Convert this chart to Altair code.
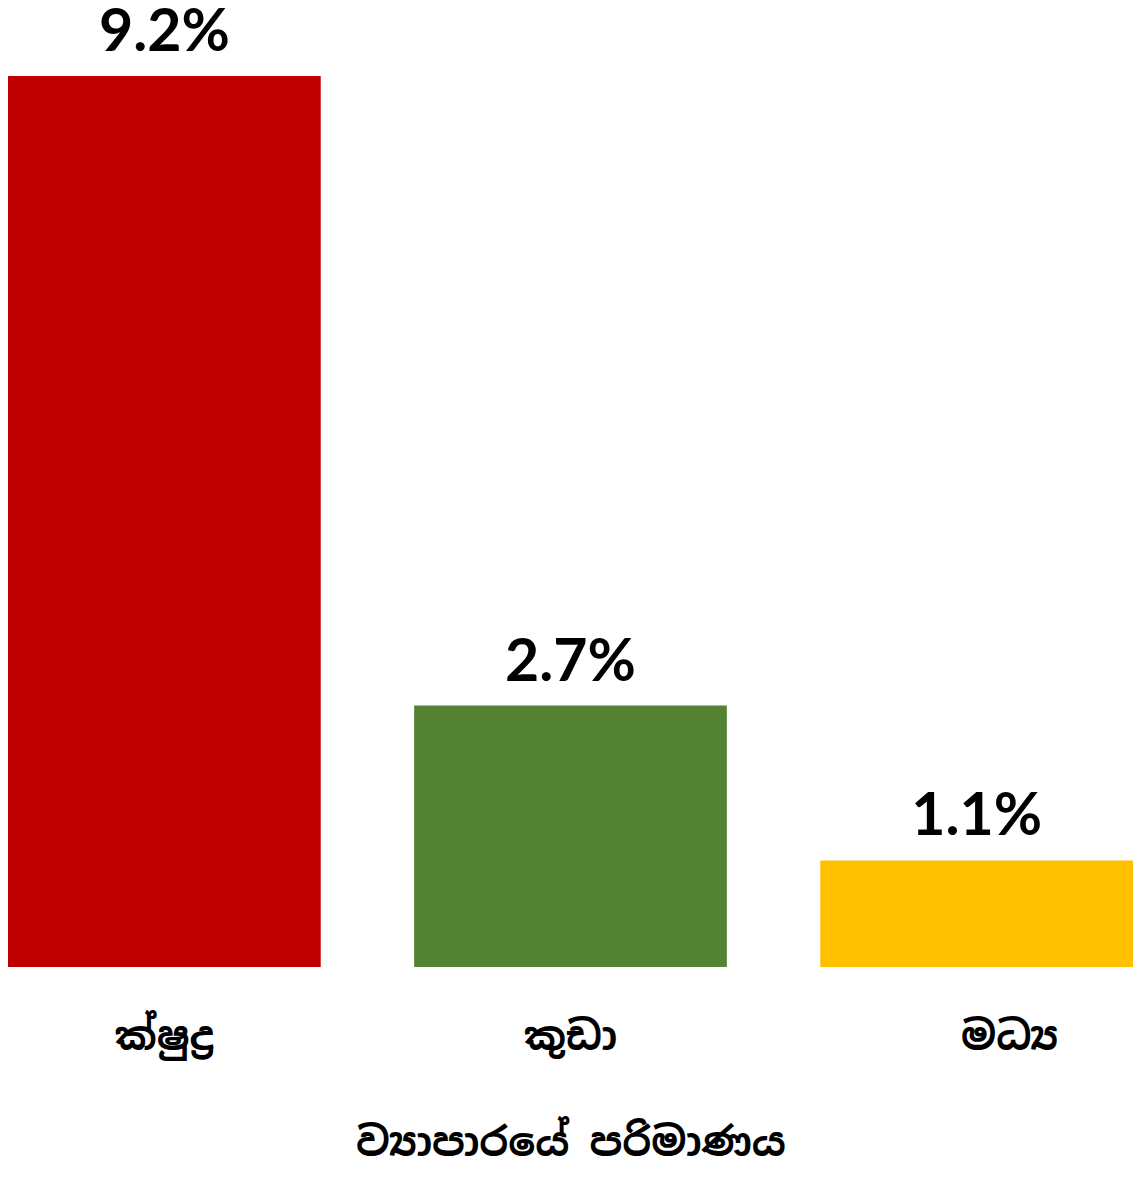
import altair as alt
import pandas as pd

categories = ["ක්ෂුද්‍ර", "කුඩා", "මධ්‍ය"]
values = [9.2, 2.7, 1.1]
labels = ["9.2%", "2.7%", "1.1%"]
colors = ["#C00000", "#548235", "#FFC000"]

df = pd.DataFrame({"cat": categories, "val": values, "lab": labels, "col": colors})

sinhala_font = "Iskoola Pota, Noto Sans Sinhala, Noto Serif Sinhala, sans-serif"

x = alt.X("cat:N", sort=categories,
          scale=alt.Scale(paddingInner=0.23, paddingOuter=0),
          axis=alt.Axis(title="ව්‍යාපාරයේ පරිමාණය", labelAngle=0, labelFontSize=40,
                        labelFont=sinhala_font, labelFontWeight="bold", labelColor="black",
                        labelPadding=50,
                        labelOffset=alt.condition("datum.value == 'මධ්‍ය'", alt.value(33), alt.value(0)),
                        titleFontSize=40, titleFont=sinhala_font,
                        titleFontWeight="bold", titleColor="black", titlePadding=66,
                        ticks=False, domain=False))
y = alt.Y("val:Q", scale=alt.Scale(domain=[0, 9.902], nice=False, zero=True),
          axis=None)

bars = alt.Chart(df).mark_bar().encode(
    x=x, y=y, color=alt.Color("col:N", scale=None))

text = alt.Chart(df).mark_text(font="Lato", fontWeight="bold", fontSize=59,
                               baseline="alphabetic", dy=-25, color="black").encode(
    x=alt.X("cat:N", sort=categories), y="val:Q", text="lab:N")

chart = (bars + text).properties(
    width=1125, height=959,
    autosize=alt.AutoSizeParams(type="none"),
    padding={"top": 0, "left": 0, "right": 0, "bottom": 199},
).configure_view(stroke=None).configure_axis(grid=False)

chart.save("out.html", embed_options={"renderer": "svg", "actions": False})
